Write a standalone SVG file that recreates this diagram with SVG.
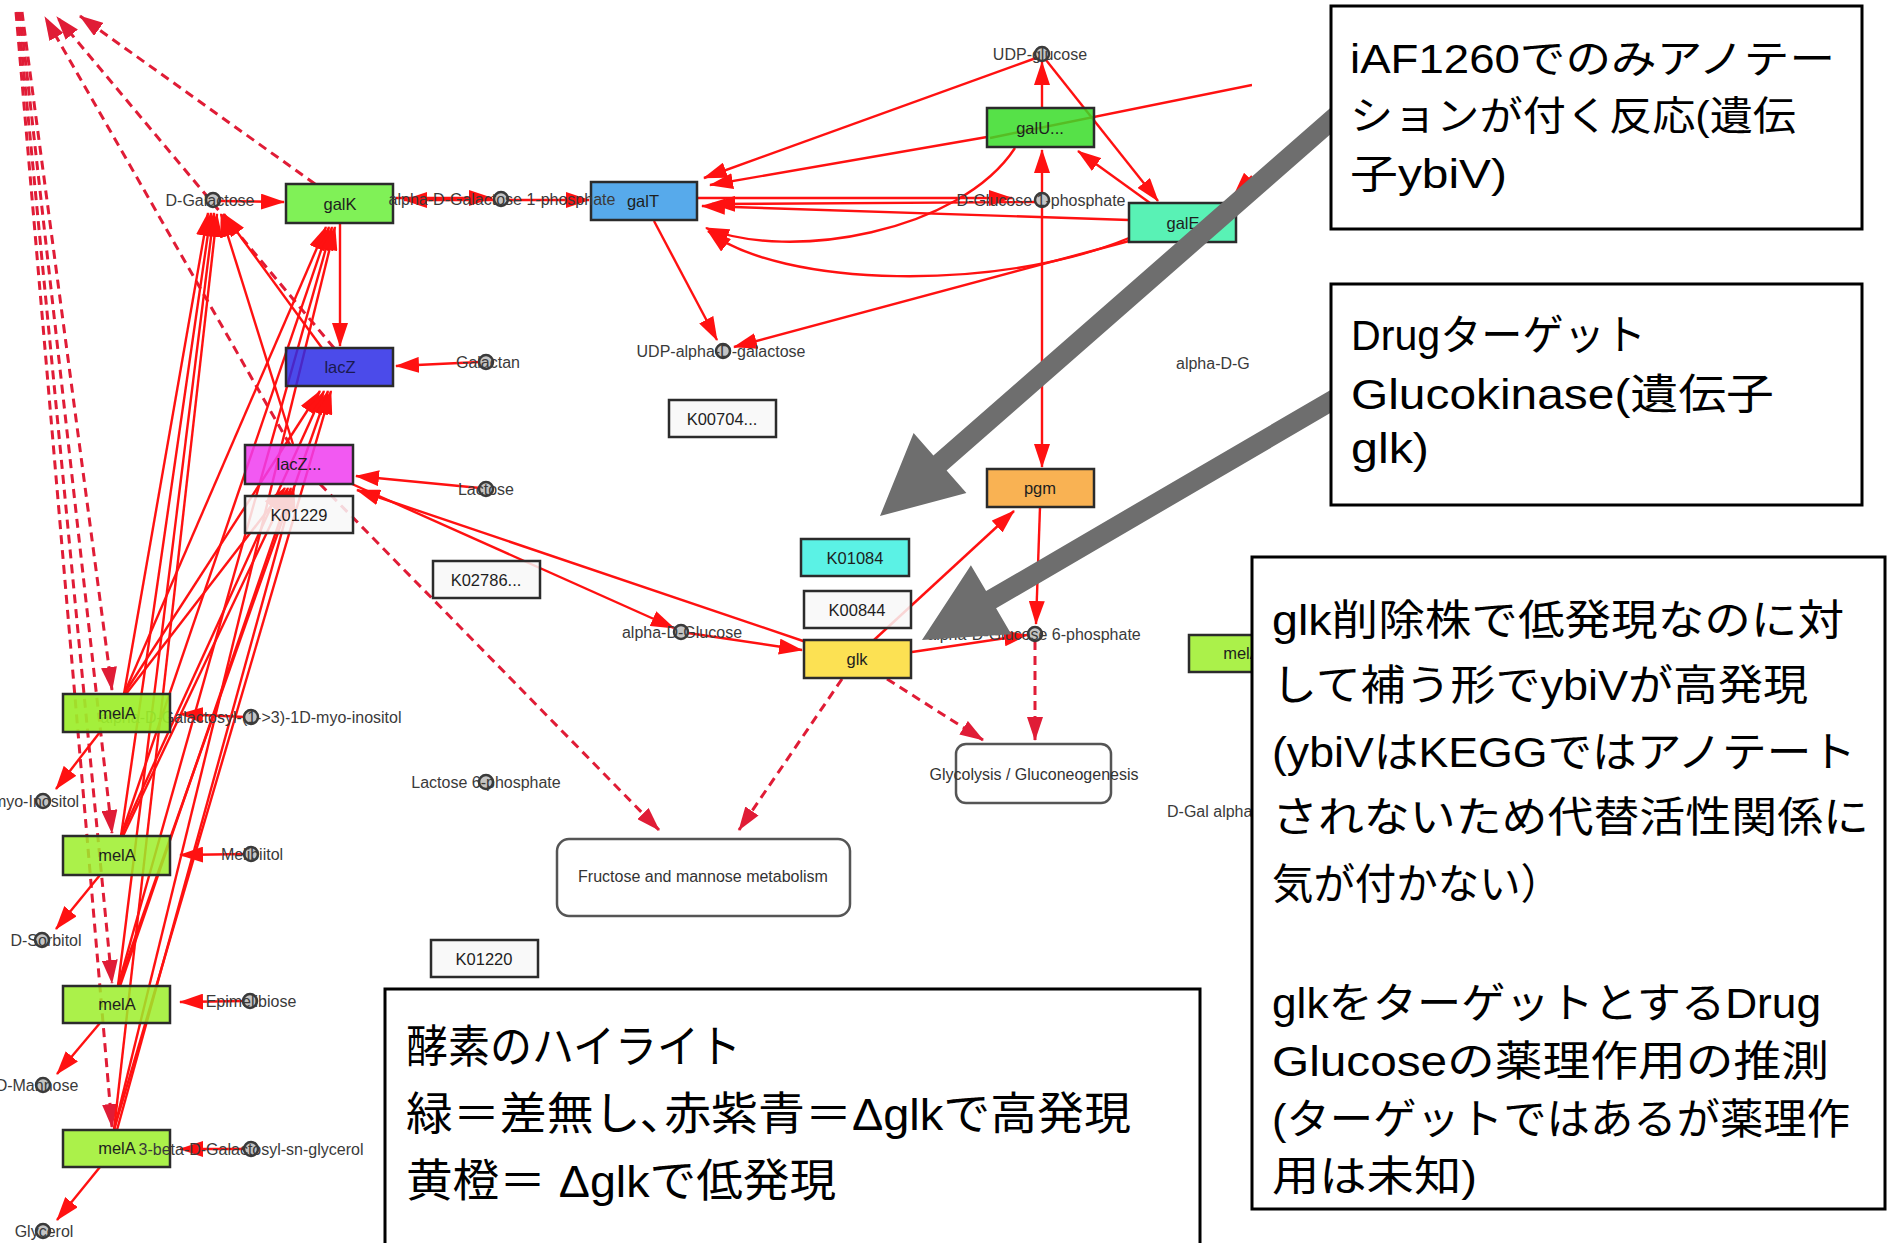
<svg xmlns="http://www.w3.org/2000/svg" width="1887" height="1243" viewBox="0 0 1887 1243">
<style>
.e{fill:none;stroke:#ff1111;stroke-width:2.4;marker-end:url(#ah)}
.na{marker-end:none}
.d{fill:none;stroke:#e01c36;stroke-width:3;stroke-dasharray:9 6;marker-end:url(#ahd)}
.n rect{stroke:#2b2b2b;stroke-width:2.5;fill-opacity:0.85}
.n text{font-family:"Liberation Sans",Arial,sans-serif;font-size:16.5px;fill:#1e1e1e;text-anchor:middle}
.c circle{fill:#c4c4c4;stroke:#3a3a3a;stroke-width:2.5}
.c text{font-family:"Liberation Sans",Arial,sans-serif;font-size:16px;fill:#3a3a3a;text-anchor:middle}
.pw rect{fill:#fff;stroke:#555;stroke-width:2.5}
.pw text{font-family:"Liberation Sans",Arial,sans-serif;font-size:16px;fill:#333;text-anchor:middle}
.jp{font-family:"Liberation Sans","Noto Sans CJK JP",sans-serif;fill:#000}
.box{fill:#fff;stroke:#000;stroke-width:3}
.ga{fill:#6e6e6e}
</style>
<defs>
<marker id="ah" viewBox="0 0 24 16" refX="23" refY="8" markerWidth="24" markerHeight="16" markerUnits="userSpaceOnUse" orient="auto"><path d="M0,0 L24,8 L0,16 z" fill="#ff1111"/></marker>
<marker id="ahd" viewBox="0 0 24 16" refX="23" refY="8" markerWidth="24" markerHeight="16" markerUnits="userSpaceOnUse" orient="auto"><path d="M0,0 L24,8 L0,16 z" fill="#e01c36"/></marker>
<clipPath id="clipNet"><rect x="0" y="0" width="1252" height="1243"/></clipPath>
</defs>
<rect width="1887" height="1243" fill="#fff"/>
<g id="network" clip-path="url(#clipNet)">
<g id="connectors">
<path class="d" d="M22,12 L112,690"/>
<path class="d" d="M20,12 L112,833"/>
<path class="d" d="M18,12 L112,983"/>
<path class="d" d="M16,12 L112,1127"/>
<path class="d" d="M315,184 L80,16"/>
<path class="d" d="M290,445 L45,17"/>
<path class="d" d="M334,348 L57,17"/>
<path class="d" d="M320,484 L659,830"/>
<path class="d" d="M842,679 L739,830"/>
<path class="d" d="M887,679 L983,740"/>
<path class="d" d="M1035,641 L1035,740"/>
<path class="e" d="M124,694 L208,213"/>
<path class="e" d="M124,694 L326,227"/>
<path class="e" d="M124,694 L320,391"/>
<path class="e" d="M126,694 L285,488"/>
<path class="e" d="M121,836 L211,213"/>
<path class="e" d="M121,836 L329,227"/>
<path class="e" d="M121,836 L324,391"/>
<path class="e" d="M123,836 L288,488"/>
<path class="e" d="M118,986 L214,213"/>
<path class="e" d="M118,986 L332,227"/>
<path class="e" d="M118,986 L328,391"/>
<path class="e" d="M120,986 L291,488"/>
<path class="e" d="M114,1130 L217,214"/>
<path class="e" d="M114,1130 L335,227"/>
<path class="e" d="M114,1130 L331,391"/>
<path class="e" d="M117,1130 L294,488"/>
<path class="e" d="M322,348 L224,214"/>
<path class="e" d="M293,444 L221,214"/>
<path class="e" d="M220,201 L284,202"/>
<path class="e" d="M495,200 L404,200"/>
<path class="e" d="M396,198 L492,198"/>
<path class="e" d="M508,200 L589,200"/>
<path class="e" d="M340,224 L340,346"/>
<path class="e" d="M480,362 L396,366"/>
<path class="e" d="M480,488 L356,476"/>
<path class="e" d="M806,642 L357,490"/>
<path class="e" d="M352,484 L674,628"/>
<path class="e" d="M688,633 L802,650"/>
<path class="e" d="M874,640 L1014,511"/>
<path class="e" d="M912,652 L1027,635"/>
<path class="e" d="M1042,207 L1042,467"/>
<path class="e" d="M1042,194 L1042,150"/>
<path class="e" d="M1042,108 L1042,62"/>
<path class="e" d="M1036,58 L704,178"/>
<path class="e" d="M987,137 L710,185"/>
<path class="e" d="M1015,148 C960,232 790,262 706,228"/>
<path class="e" d="M698,198 L1012,198"/>
<path class="e" d="M1036,202 L712,204"/>
<path class="e" d="M1129,220 L702,206"/>
<path class="e" d="M1129,238 C1000,292 780,288 708,231"/>
<path class="e" d="M1129,241 L734,347"/>
<path class="e" d="M654,221 L717,340"/>
<path class="e" d="M1046,60 L1158,201"/>
<path class="e" d="M1150,203 L1078,151"/>
<path class="e na" d="M990,138 L1252,85"/>
<path class="e" d="M1252,176 L1234,195"/>
<path class="e" d="M1040,507 L1036,624"/>
<path class="e" d="M245,717 L180,714"/>
<path class="e" d="M100,732 L56,789"/>
<path class="e" d="M245,854 L180,855"/>
<path class="e" d="M100,875 L56,929"/>
<path class="e" d="M244,1001 L180,1002"/>
<path class="e" d="M100,1023 L57,1074"/>
<path class="e" d="M245,1149 L180,1149"/>
<path class="e" d="M100,1167 L57,1220"/>
</g>
<g id="c-galino" class="c"><circle cx="251" cy="717" r="7"/><text x="251" y="723">alpha-D-Galactosyl-(1-&gt;3)-1D-myo-inositol</text></g>
<g id="n-galK" class="n"><rect x="286" y="184" width="107" height="39" fill="#6aee3a"/><text x="340" y="210">galK</text></g>
<g id="n-galT" class="n"><rect x="591" y="182" width="106" height="38" fill="#3a9be8"/><text x="643" y="207">galT</text></g>
<g id="n-galU" class="n"><rect x="987" y="108" width="107" height="39" fill="#38dc28"/><text x="1040" y="134">galU...</text></g>
<g id="n-galE" class="n"><rect x="1129" y="203" width="107" height="39" fill="#3cf0a8"/><text x="1183" y="229">galE</text></g>
<g id="n-lacZ" class="n"><rect x="286" y="348" width="107" height="38" fill="#2b2be6"/><text x="340" y="373" style="fill:#1a1a50">lacZ</text></g>
<g id="n-lacZ2" class="n"><rect x="245" y="445" width="108" height="39" fill="#f03cf0"/><text x="299" y="470">lacZ...</text></g>
<g id="n-K01229" class="n"><rect x="245" y="496" width="108" height="37" fill="#f8f8f8"/><text x="299" y="521">K01229</text></g>
<g id="n-K00704" class="n"><rect x="669" y="400" width="107" height="37" fill="#f8f8f8"/><text x="722" y="425">K00704...</text></g>
<g id="n-K02786" class="n"><rect x="433" y="561" width="107" height="37" fill="#f8f8f8"/><text x="486" y="586">K02786...</text></g>
<g id="n-K01084" class="n"><rect x="801" y="539" width="108" height="37" fill="#3ef0e0"/><text x="855" y="564">K01084</text></g>
<g id="n-K00844" class="n"><rect x="804" y="591" width="107" height="37" fill="#f8f8f8"/><text x="857" y="616">K00844</text></g>
<g id="n-glk" class="n"><rect x="804" y="640" width="107" height="38" fill="#fbdc35"/><text x="857" y="665">glk</text></g>
<g id="n-pgm" class="n"><rect x="987" y="469" width="107" height="38" fill="#f8a535"/><text x="1040" y="494">pgm</text></g>
<g id="n-melA1" class="n"><rect x="63" y="694" width="107" height="38" fill="#9cee2a" style="fill-opacity:0.92"/><text x="117" y="719">melA</text></g>
<g id="n-melA2" class="n"><rect x="63" y="836" width="107" height="39" fill="#9cee2a"/><text x="117" y="861">melA</text></g>
<g id="n-melA3" class="n"><rect x="63" y="986" width="107" height="37" fill="#9cee2a"/><text x="117" y="1010">melA</text></g>
<g id="n-melA4" class="n"><rect x="63" y="1130" width="107" height="37" fill="#9cee2a"/><text x="117" y="1154">melA</text></g>
<g id="n-melA5" class="n"><rect x="1189" y="635" width="107" height="37" fill="#9cee2a"/><text x="1242" y="659">melA</text></g>
<g id="n-K01220" class="n"><rect x="431" y="940" width="107" height="37" fill="#f8f8f8"/><text x="484" y="965">K01220</text></g>
<g id="p-fructose" class="pw"><rect x="557" y="839" width="293" height="77" rx="12"/><text x="703" y="882">Fructose and mannose metabolism</text></g>
<g id="p-glycolysis" class="pw"><rect x="956" y="744" width="155" height="59" rx="10"/><text x="1034" y="780">Glycolysis / Gluconeogenesis</text></g>
<g id="c-dgal" class="c"><circle cx="213" cy="200" r="7"/><text x="210" y="206">D-Galactose</text></g>
<g id="c-agal1p" class="c"><circle cx="501" cy="199" r="7"/><text x="502" y="205">alpha-D-Galactose 1-phosphate</text></g>
<g id="c-udpglc" class="c"><circle cx="1042" cy="54" r="7"/><text x="1040" y="60">UDP-glucose</text></g>
<g id="c-glc1p" class="c"><circle cx="1042" cy="200" r="7"/><text x="1041" y="206">D-Glucose 1-phosphate</text></g>
<g id="c-udpgal" class="c"><circle cx="723" cy="351" r="7"/><text x="721" y="357">UDP-alpha-D-galactose</text></g>
<g id="c-galactan" class="c"><circle cx="486" cy="362" r="7"/><text x="488" y="368">Galactan</text></g>
<g id="c-lactose" class="c"><circle cx="486" cy="489" r="7"/><text x="486" y="495">Lactose</text></g>
<g id="c-aglc" class="c"><circle cx="681" cy="632" r="7"/><text x="682" y="638">alpha-D-Glucose</text></g>
<g id="c-g6p" class="c"><circle cx="1035" cy="634" r="7"/><text x="1034" y="640">alpha-D-Glucose 6-phosphate</text></g>
<g id="c-myoino" class="c"><circle cx="43" cy="801" r="7"/><text x="36" y="807">myo-Inositol</text></g>
<g id="c-melibiitol" class="c"><circle cx="251" cy="854" r="7"/><text x="252" y="860">Melibiitol</text></g>
<g id="c-sorbitol" class="c"><circle cx="42" cy="940" r="7"/><text x="46" y="946">D-Sorbitol</text></g>
<g id="c-epimel" class="c"><circle cx="250" cy="1001" r="7"/><text x="251" y="1007">Epimelibiose</text></g>
<g id="c-mannose" class="c"><circle cx="43" cy="1085" r="7"/><text x="37" y="1091">D-Mannose</text></g>
<g id="c-galgly" class="c"><circle cx="251" cy="1149" r="7"/><text x="251" y="1155">3-beta-D-Galactosyl-sn-glycerol</text></g>
<g id="c-glycerol" class="c"><circle cx="43" cy="1231" r="7"/><text x="44" y="1237">Glycerol</text></g>
<g id="c-lac6p" class="c"><circle cx="486" cy="782" r="7"/><text x="486" y="788">Lactose 6-phosphate</text></g>
<g id="c-adg" class="c"><text x="1176" y="369" style="text-anchor:start">alpha-D-G</text></g>
<g id="c-dgalalpha" class="c"><text x="1167" y="817" style="text-anchor:start">D-Gal alpha</text></g>
</g>
<g id="callout-arrows">
<polygon class="ga" points="1336,103 1349,118 946.6,470.6 966.4,493.1 880,516 913.6,433.1 933.4,455.6"/>
<polygon class="ga" points="1336.6,386.4 1346.6,403.6 996.1,608.3 1011.3,634.2 922,640 970.9,565.2 986.1,591.1"/>
</g>
<g id="note-iaf">
<rect class="box" x="1331" y="6" width="531" height="223"/>
<text class="jp" font-size="40" x="1350" y="73" textLength="485" lengthAdjust="spacingAndGlyphs">iAF1260でのみアノテー</text>
<text class="jp" font-size="40" x="1350" y="130" textLength="446" lengthAdjust="spacingAndGlyphs">ションが付く反応(遺伝</text>
<text class="jp" font-size="40" x="1350" y="188" textLength="157" lengthAdjust="spacingAndGlyphs">子ybiV)</text>
</g>
<g id="note-drug">
<rect class="box" x="1331" y="284" width="531" height="221"/>
<text class="jp" font-size="42" x="1351" y="350" textLength="295" lengthAdjust="spacingAndGlyphs">Drugターゲット</text>
<text class="jp" font-size="42" x="1351" y="409" textLength="423" lengthAdjust="spacingAndGlyphs">Glucokinase(遺伝子</text>
<text class="jp" font-size="42" x="1351" y="463" textLength="78" lengthAdjust="spacingAndGlyphs">glk)</text>
</g>
<g id="note-glk">
<rect class="box" x="1252" y="557" width="633" height="652"/>
<text class="jp" font-size="42" x="1272" y="635" textLength="572" lengthAdjust="spacingAndGlyphs">glk削除株で低発現なのに対</text>
<text class="jp" font-size="42" x="1272" y="700" textLength="536" lengthAdjust="spacingAndGlyphs">して補う形でybiVが高発現</text>
<text class="jp" font-size="42" x="1272" y="767" textLength="584" lengthAdjust="spacingAndGlyphs">(ybiVはKEGGではアノテート</text>
<text class="jp" font-size="42" x="1272" y="832" textLength="597" lengthAdjust="spacingAndGlyphs">されないため代替活性関係に</text>
<text class="jp" font-size="42" x="1272" y="899" textLength="290" lengthAdjust="spacingAndGlyphs">気が付かない）</text>
<text class="jp" font-size="42" x="1272" y="1018" textLength="549" lengthAdjust="spacingAndGlyphs">glkをターゲットとするDrug</text>
<text class="jp" font-size="42" x="1272" y="1076" textLength="557" lengthAdjust="spacingAndGlyphs">Glucoseの薬理作用の推測</text>
<text class="jp" font-size="42" x="1272" y="1134" textLength="578" lengthAdjust="spacingAndGlyphs">(ターゲットではあるが薬理作</text>
<text class="jp" font-size="42" x="1272" y="1191" textLength="205" lengthAdjust="spacingAndGlyphs">用は未知)</text>
</g>
<g id="note-legend">
<rect class="box" x="385" y="989" width="815" height="300"/>
<text class="jp" font-size="45" x="406" y="1063" textLength="335" lengthAdjust="spacingAndGlyphs">酵素のハイライト</text>
<text class="jp" font-size="45" x="406" y="1130" textLength="725" lengthAdjust="spacingAndGlyphs">緑＝差無し､赤紫青＝Δglkで高発現</text>
<text class="jp" font-size="45" x="406" y="1197" textLength="430" lengthAdjust="spacingAndGlyphs">黄橙＝ Δglkで低発現</text>
</g>
</svg>
